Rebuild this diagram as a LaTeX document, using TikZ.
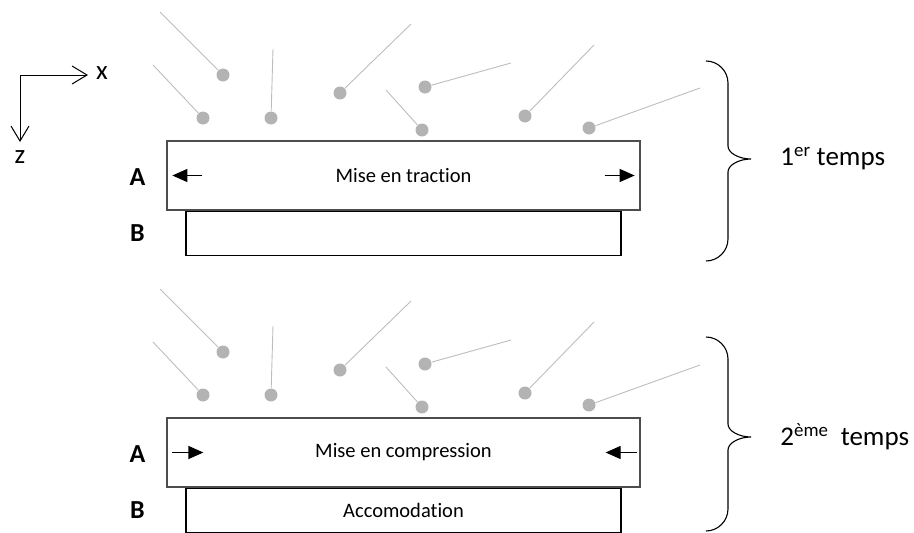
\documentclass[tikz,border=0pt]{standalone}
\usepackage{fontspec}
\setmainfont{Carlito}[Ligatures=CommonOff]
\usetikzlibrary{arrows.meta, positioning, calc}
\definecolor{cdot}{HTML}{B3B3B3}
\definecolor{ctrail}{HTML}{BDBDBD}
\definecolor{cedge}{HTML}{4D4D4D}
\tikzset{
  every picture/.style={line width=0.9pt},
  layer/.style={minimum width=#1, inner sep=0pt, font=\fontsize{20.5}{24}\selectfont},
  layerA/.style={layer=473pt, minimum height=69pt, draw=cedge, line width=1.3pt},
  layerB/.style={layer=435pt, minimum height=44pt, draw=black, line width=1.1pt},
  tag/.style={inner sep=0pt, font=\fontsize{26}{30}\selectfont\bfseries},
  push/.style={-{Triangle[length=15pt, width=13pt]}, line width=1.3pt},
  axis/.style={-{Straight Barb[length=15pt, width=18pt]}, line width=1pt},
  axislabel/.style={inner sep=0pt, font=\fontsize{27}{30}\selectfont},
  grain/.style={circle, fill=cdot, minimum size=13pt, inner sep=0pt},
  trail/.style={draw=ctrail, line width=0.9pt},
  phase/.style={inner sep=0pt, anchor=west, font=\fontsize{27}{32}\selectfont},
}

\begin{document}
\begin{tikzpicture}[x=1pt, y=-1pt]
  \useasboundingbox (0,0) rectangle (914,533);
  % axes
  \coordinate (o) at (20,75);
  \coordinate (xe) at (88,75);
  \coordinate (ze) at (20,142);
  \draw[axis] (o) -- (xe);
  \draw[axis] (o) -- (ze);
  \node[axislabel] (xl) at (102,73) {x};
  \node[axislabel] (zl) at (20,157) {z};
  % impinging particles, same pattern for both stages
  \foreach \dy in {0,277} {
    \foreach \px/\py/\qx/\qy [count=\k] in {223/75/160/12, 203/118/153/65, 271/118/273/49, 340/93/411/24,
        425/87/511/63, 422/130/386/90, 525/116/594/45, 589/128/700/88} {
      \node[grain] (g\dy-\k) at (\px,\py+\dy) {};
      \draw[trail] (\qx,\qy+\dy) -- (g\dy-\k);
    }
  }
  % first stage
  \node[layerA] (tA) at (403.5,175.5) {Mise en traction};
  \node[layerB, below=0pt of tA] (tB) {};
  \node[tag] (tAl) at (137.5,177) {A};
  \node[tag] (tBl) at (tAl |- tB) {B};
  \draw[push] ($(tA.west)+(36,0)$) -- ($(tA.west)+(6,0)$);
  \draw[push] ($(tA.east)+(-36,0)$) -- ($(tA.east)+(-6,0)$);
  % second stage
  \node[layerA] (cA) at (403.5,452.5) {Mise en compression};
  \node[layerB, below=0pt of cA] (cB) {Accomodation};
  \node[tag] (cAl) at (137.5,454) {A};
  \node[tag] (cBl) at (cAl |- cB) {B};
  \draw[push] ($(cA.west)+(6,0)$) -- ($(cA.west)+(37,0)$);
  \draw[push] ($(cA.east)+(-4,0)$) -- ($(cA.east)+(-35,0)$);
  % braces with stage names
  \foreach \ytop/\ybot/\ymid/\lab [count=\i] in {61/261/159/{1\textsuperscript{er} temps},
      337/531/437/{2\textsuperscript{ème}\ \ temps}} {
    \draw[line width=1.1pt] (706,\ytop) .. controls (718,\ytop) and (728,\ytop+10) .. (728,\ytop+22)
      -- (728,\ymid-13) .. controls (728,\ymid-6) and (739,\ymid) .. (751,\ymid)
      .. controls (739,\ymid) and (728,\ymid+6) .. (728,\ymid+13)
      -- (728,\ybot-22) .. controls (728,\ybot-10) and (718,\ybot) .. (706,\ybot);
    \coordinate (tip\i) at (751,\ymid);
    \node[phase, right=29pt of tip\i] (ph\i) {\lab};
  }
\end{tikzpicture}
\end{document}
